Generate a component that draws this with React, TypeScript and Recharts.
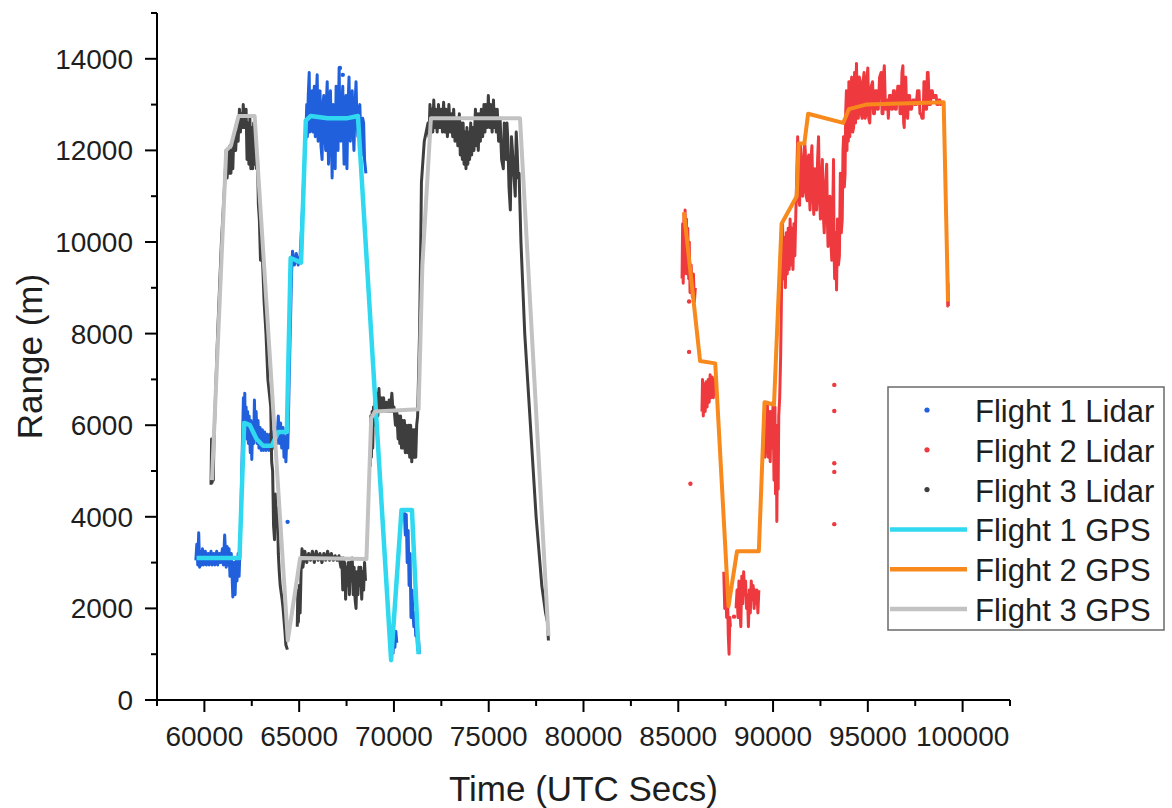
import React from 'react';
import { ComposedChart, Line, Scatter, XAxis, YAxis, Label } from 'recharts';

type P = [number, number];

// ---------- axes ----------
const X_DOMAIN: [number, number] = [57500, 102500];
const Y_DOMAIN: [number, number] = [0, 15000];
const X_TICKS = [57500, 60000, 62500, 65000, 67500, 70000, 72500, 75000, 77500, 80000, 82500, 85000, 87500, 90000, 92500, 95000, 97500, 100000, 102500];
const X_TICK_LABELS = [60000, 65000, 70000, 75000, 80000, 85000, 90000, 95000, 100000];
const Y_TICKS = [0, 1000, 2000, 3000, 4000, 5000, 6000, 7000, 8000, 9000, 10000, 11000, 12000, 13000, 14000, 15000];
const Y_TICK_LABELS = [0, 2000, 4000, 6000, 8000, 10000, 12000, 14000];
const X_TITLE = 'Time (UTC Secs)';
const Y_TITLE = 'Range (m)';

const SERIES_NAMES = ['Flight 1 Lidar', 'Flight 2 Lidar', 'Flight 3 Lidar', 'Flight 1 GPS', 'Flight 2 GPS', 'Flight 3 GPS'];
const COLORS = {
  f1Lidar: '#2160dc',
  f2Lidar: '#ee3a3e',
  f3Lidar: '#3e3e3e',
  f1Gps: '#30d9f0',
  f2Gps: '#f7891d',
  f3Gps: '#c2c2c2',
};

// ---------- GPS tracks ----------
const flight1Gps: P[] = [
  [59590, 3100], [61850, 3100], [62100, 6050], [62400, 6000], [62750, 5700], [63100, 5550], [63550, 5550],
  [63900, 5850], [64350, 5850], [64550, 9650], [65100, 9550], [65350, 12650], [65600, 12750], [66500, 12700],
  [67500, 12700], [68100, 12750], [69850, 870], [70400, 4150], [70950, 4150], [71300, 1000],
];
const flight2Gps: P[] = [
  [85300, 10650], [86150, 7400], [86950, 7350], [87650, 2050], [88100, 3250], [89250, 3250], [89550, 6500],
  [90050, 6450], [90450, 10400], [91250, 11000], [91350, 12150], [91650, 12150], [91850, 12800], [93700, 12600],
  [94000, 12900], [94900, 13000], [99000, 13050], [99230, 8700],
];
const flight3Gps: P[] = [
  [60400, 4800], [61150, 12000], [61400, 12100], [61800, 12750], [62650, 12750], [64400, 1300], [65050, 3100],
  [68550, 3080], [68800, 6150], [69000, 6300], [71300, 6350], [71500, 9500], [71950, 12700], [76650, 12700],
  [78150, 1400],
];

// ---------- Lidar returns (dense traces) ----------
const flight1LidarSegments: P[][] = [
  [
    [59550, 3050], [59600, 3400], [59650, 2950], [59700, 3650], [59750, 2900], [59800, 3250], [59850, 2950],
    [59900, 3300], [59950, 2950], [60050, 3250], [60100, 2950], [60200, 3200], [60250, 2950], [60350, 3250],
    [60400, 2950], [60500, 3200], [60550, 2950], [60650, 3250], [60700, 2950], [60800, 3200], [60850, 3000],
    [60950, 3300], [61000, 2950], [61070, 3600], [61150, 2900], [61200, 3350], [61250, 2950], [61300, 3300],
    [61350, 2700], [61420, 3200], [61500, 2250], [61560, 3000], [61620, 2300], [61680, 3100], [61720, 2600],
    [61780, 3200], [61830, 2700], [61880, 3300], [61950, 4500], [62000, 5500], [62060, 6600],
    [62100, 5900], [62130, 6700], [62160, 5800], [62200, 6400], [62240, 5700], [62280, 6300], [62320, 5600],
    [62360, 6200], [62420, 5400], [62460, 6100], [62500, 5250], [62550, 6000], [62600, 5600], [62640, 6550],
    [62680, 5700], [62730, 6300], [62780, 5600], [62830, 6100], [62880, 5500], [62940, 5950], [63000, 5450],
    [63060, 5900], [63120, 5450], [63180, 5850], [63250, 5450], [63320, 5800], [63400, 5450], [63470, 5800],
    [63540, 5450], [63610, 5850], [63680, 5500], [63750, 5950], [63820, 5600], [63900, 6200], [63960, 5600],
    [64020, 6050], [64080, 5500], [64150, 5950], [64200, 5300], [64250, 5750], [64300, 5200], [64360, 5850],
    [64400, 5500], [64450, 6500], [64500, 7500], [64550, 8400], [64600, 9300], [64650, 9800], [64750, 9500],
    [64850, 9750], [64950, 9500], [65050, 9700], [65150, 10500], [65250, 11500], [65350, 12300],
    [65400, 13000], [65430, 12300], [65480, 13200], [65530, 13700], [65560, 12400], [65600, 13100],
    [65650, 12500], [65690, 13300], [65720, 12400], [65760, 13000], [65800, 13400], [65850, 12300],
    [65900, 13100], [65950, 13650], [66000, 12200], [66050, 13200], [66100, 13300], [66150, 12100],
    [66210, 11800], [66250, 13000], [66300, 13200], [66350, 12400], [66400, 12000], [66440, 13100],
    [66480, 13500], [66520, 12300], [66550, 11700], [66600, 12900], [66650, 13300], [66700, 12200],
    [66740, 11400], [66770, 12600], [66800, 13000], [66850, 12300], [66900, 11600], [66930, 12800],
    [66950, 13400], [67000, 12300], [67050, 12000], [67080, 13100], [67110, 13800], [67150, 12500],
    [67200, 12200], [67250, 13000], [67300, 13400], [67340, 12300], [67370, 11700], [67420, 12800],
    [67470, 13200], [67490, 12200], [67520, 11600], [67570, 12900], [67630, 13600], [67670, 12600],
    [67700, 12200], [67750, 13100], [67800, 13300], [67850, 12400], [67890, 12000], [67950, 13000],
    [68000, 13500], [68050, 12600], [68100, 12300], [68150, 12900], [68200, 13000], [68250, 12300],
    [68310, 11900], [68350, 12700], [68400, 12600], [68450, 11800], [68520, 11500],
  ],
  [
    [69950, 1000], [70000, 1450], [70050, 1150], [70100, 1500], [70150, 1250],
  ],
  [
    [70550, 4100], [70600, 3600], [70650, 4050], [70700, 3000], [70750, 3700], [70800, 2500], [70850, 3200],
    [70900, 1800], [70950, 2400], [71000, 1900], [71050, 1600], [71100, 1900], [71150, 1400], [71200, 1500],
    [71250, 1100], [71300, 1300], [71350, 1000],
  ],
];

const flight2LidarSegments: P[][] = [
  [
    [85200, 9200], [85230, 10400], [85260, 9100], [85300, 10600], [85330, 9300], [85360, 10700], [85400, 9600],
    [85430, 10500], [85470, 9300], [85500, 10300], [85550, 9200], [85580, 10000], [85620, 8900], [85680, 9500],
    [85740, 8800], [85800, 9300], [85850, 8700], [85900, 9000],
  ],
  [
    [86250, 6300], [86280, 7000], [86320, 6200], [86380, 6900], [86420, 6300], [86470, 6950], [86520, 6400],
    [86580, 7000], [86630, 6500], [86680, 7100], [86730, 6600], [86790, 7050], [86850, 6600], [86900, 7000],
    [86950, 6700],
  ],
  [
    [87400, 2800], [87450, 2000], [87500, 2600], [87550, 1800], [87600, 2300], [87640, 1400], [87680, 1000],
    [87720, 1800], [87750, 1600],
  ],
  [
    [88050, 2000], [88100, 2400], [88150, 1800], [88200, 2600], [88250, 2000], [88300, 1600], [88350, 2700],
    [88400, 2100], [88450, 2800], [88500, 2300], [88550, 2600], [88600, 2000], [88650, 2300], [88700, 1600],
    [88750, 2400], [88800, 1900], [88850, 2600], [88900, 2200], [88950, 2500], [89000, 2000], [89050, 2400],
    [89100, 2100], [89150, 2400], [89200, 1900], [89250, 2400],
  ],
  [
    [89550, 6400], [89580, 5300], [89620, 6500], [89660, 5400], [89700, 6500], [89750, 5300], [89800, 6300],
    [89850, 5200], [89900, 6300], [89950, 5500], [90000, 6500], [90050, 4800], [90100, 6400], [90130, 4500],
    [90170, 6000], [90200, 3900], [90230, 5600], [90270, 4600], [90300, 6200], [90350, 6600], [90400, 7500],
    [90450, 9000], [90500, 10400], [90550, 9200], [90600, 10100], [90650, 9000], [90700, 10200],
    [90750, 9300], [90800, 10300], [90850, 9400], [90900, 10500], [90950, 9500], [91000, 10300],
    [91050, 9400], [91100, 10400], [91150, 9700], [91200, 10600],
    [91300, 12300], [91350, 11000], [91400, 10800], [91450, 12100], [91500, 11800], [91560, 11000],
    [91620, 11200], [91660, 12200], [91700, 12000], [91750, 11000], [91800, 10900], [91840, 11800],
    [91880, 11900], [91920, 11000], [91950, 10700], [92000, 11800], [92050, 12100], [92100, 11000],
    [92150, 10600], [92200, 11600], [92250, 11400], [92280, 10800], [92300, 10700], [92350, 11800],
    [92400, 12300], [92450, 11000], [92500, 10500], [92550, 11300], [92600, 11800], [92650, 10600],
    [92700, 10200], [92760, 11200], [92830, 11700], [92870, 10400], [92900, 9900], [92950, 10900],
    [93000, 11000], [93050, 10000], [93100, 9600], [93150, 10700], [93190, 11800], [93220, 9800],
    [93250, 9200], [93300, 10200], [93350, 8950], [93400, 10500], [93450, 9500], [93500, 9700],
    [93550, 11500], [93600, 10200], [93650, 10500], [93690, 12000], [93720, 12300], [93760, 11200],
    [93800, 11500], [93830, 12800], [93870, 13300],
    [93900, 12000], [93930, 13300], [93970, 12200], [94000, 13500], [94050, 12300], [94100, 13400],
    [94150, 13600], [94200, 12400], [94250, 12500], [94300, 13700], [94350, 12600], [94400, 13900],
    [94450, 12700], [94500, 12700], [94550, 13600], [94600, 13500], [94650, 12800], [94700, 12700],
    [94750, 13500], [94800, 13700], [94860, 12700], [94920, 12800], [94960, 13600], [95000, 13800],
    [95050, 12700], [95100, 12600], [95180, 13400], [95250, 13500], [95300, 12800], [95350, 12800],
    [95400, 13300], [95450, 13300], [95500, 12900], [95550, 12900], [95620, 13600], [95700, 13700],
    [95750, 12800], [95800, 12800], [95840, 13700], [95870, 13850], [95930, 12900], [96000, 12900],
    [96040, 13100], [96080, 12700], [96140, 13200], [96200, 13200], [96250, 12900], [96300, 12900],
    [96350, 13300], [96400, 13300], [96450, 12900], [96500, 12900], [96580, 13400], [96650, 13400],
    [96700, 12800], [96750, 12800], [96800, 13700], [96850, 13850], [96890, 12600], [96920, 12500],
    [96960, 13500], [97000, 13600], [97050, 12800], [97100, 12700], [97150, 13200], [97200, 13200],
    [97250, 12900], [97300, 12900], [97380, 13100], [97450, 13100], [97500, 13000], [97550, 13000],
    [97620, 13300], [97700, 13300], [97750, 12800], [97800, 12800], [97860, 12700], [97920, 12700],
    [97960, 13500], [98000, 13500], [98050, 12900], [98100, 12900], [98140, 13700], [98180, 13700],
    [98240, 13000], [98300, 13000], [98350, 13300], [98400, 13300], [98450, 13150], [98490, 13150],
    [98550, 13200], [98600, 13200], [98650, 13000], [98700, 13000], [98750, 13100], [98800, 13100],
    [98850, 13000], [98900, 13000],
  ],
  [
    [99200, 9000], [99215, 8600], [99230, 9100], [99250, 8600],
  ],
];

const flight3LidarSegments: P[][] = [
  [
    [60350, 4700], [60380, 5700], [60410, 4750], [60440, 5600], [60470, 4800], [60500, 5600], [60550, 6200],
    [60700, 8000], [60900, 10000], [61100, 11500], [61150, 12000], [61200, 11400], [61250, 12000],
    [61300, 11500], [61350, 12100], [61400, 11500], [61450, 12000], [61500, 11600], [61550, 12300],
    [61650, 12000], [61700, 12400], [61780, 12200], [61850, 12900], [61900, 12400], [61950, 12800],
    [62000, 12500], [62050, 13000], [62100, 12500], [62150, 12800], [62200, 12900], [62250, 11800],
    [62300, 12600], [62350, 11700], [62400, 12700], [62450, 11600], [62500, 12500], [62550, 11600],
    [62600, 12600], [62650, 11700], [62700, 12200], [62750, 11600], [62800, 11900], [62850, 10800],
    [62900, 10500], [62960, 9600], [63000, 10200], [63050, 9800], [63150, 8700], [63250, 8000],
    [63350, 7000], [63450, 6600], [63500, 6400], [63550, 5200], [63600, 5000], [63650, 3800], [63700, 3500],
    [63750, 4500], [63800, 3800], [63850, 4200], [63900, 3200], [63950, 2800], [64000, 2500], [64100, 2200],
    [64150, 2000], [64250, 1500], [64300, 1200], [64380, 1100],
  ],
  [
    [64900, 1600], [64930, 2400], [64960, 1700], [65000, 2500], [65050, 1900], [65100, 2800], [65150, 3300],
    [65200, 2900], [65300, 3250], [65400, 3000], [65500, 3200], [65600, 3050], [65700, 3250], [65800, 3000],
    [65900, 3250], [66000, 3050], [66100, 3200], [66200, 3000], [66300, 3200], [66400, 3050], [66500, 3250],
    [66600, 3050], [66700, 3200], [66800, 3050], [66900, 3150], [67000, 3050], [67100, 3150], [67200, 2900],
    [67250, 3100], [67300, 2400], [67340, 3100], [67370, 2600], [67410, 3000], [67450, 2200], [67500, 2900],
    [67550, 2500], [67600, 3000], [67650, 2300], [67700, 3000], [67750, 2600], [67800, 3100], [67850, 2300],
    [67900, 2900], [67950, 2200], [68000, 2000], [68050, 2800], [68100, 2300], [68150, 2900], [68200, 2500],
    [68250, 2900], [68300, 2200], [68350, 2800], [68400, 2400], [68450, 3000], [68500, 2600],
  ],
  [
    [68750, 5100], [68780, 6200], [68810, 5300], [68850, 6300], [68880, 5500], [68920, 6400], [68960, 6000],
    [69000, 6500], [69050, 6100], [69100, 6700], [69150, 6200], [69210, 6800], [69260, 6300], [69320, 6600],
    [69380, 6300], [69450, 6600], [69520, 6300], [69600, 6500], [69680, 6300], [69750, 6550], [69820, 6300],
    [69890, 6700], [69950, 6300], [70000, 6400], [70080, 6000], [70150, 6300], [70220, 5700], [70260, 6200],
    [70310, 5600], [70350, 6200], [70400, 5500], [70450, 6100], [70500, 5500], [70550, 6100], [70600, 5400],
    [70650, 6000], [70720, 5400], [70780, 6000], [70830, 5300], [70880, 6000], [70940, 5200], [71000, 5900],
    [71050, 5300], [71100, 5900], [71150, 5300], [71200, 6000], [71250, 6200], [71350, 8000], [71400, 9500],
    [71450, 11300], [71600, 12200],
    [71800, 12600], [71850, 12300], [71900, 13000], [71950, 12400], [72000, 12900], [72050, 12400],
    [72100, 13100], [72150, 12500], [72200, 12900], [72280, 12400], [72350, 13000], [72420, 12500],
    [72500, 12900], [72560, 12400], [72620, 13050], [72690, 12400], [72750, 12900], [72820, 12300],
    [72900, 13000], [72970, 12400], [73040, 12800], [73100, 12300], [73150, 12900], [73220, 12200],
    [73300, 12700], [73370, 12100], [73450, 12800], [73500, 11900], [73560, 12600], [73610, 11800],
    [73650, 12600], [73700, 11700], [73750, 12400], [73800, 11600], [73850, 12500], [73900, 11700],
    [73930, 12400], [73990, 11800], [74050, 12600], [74100, 11900], [74150, 12500], [74220, 12000],
    [74300, 12900], [74350, 12100], [74400, 12800], [74450, 12000], [74500, 12800], [74560, 12200],
    [74610, 12900], [74680, 12300], [74750, 13000], [74800, 12400], [74850, 13000], [74920, 12500],
    [74980, 13200], [75040, 12500], [75100, 13000], [75180, 12400], [75250, 13100], [75300, 12500],
    [75350, 12900], [75400, 12400], [75450, 12900], [75520, 12200], [75600, 12700], [75680, 11800],
    [75770, 11600], [75820, 12600], [75850, 12200], [75900, 12500], [75920, 11800], [75960, 12600],
    [76000, 12300], [76070, 11200], [76140, 10700], [76200, 12300], [76250, 12000], [76320, 11500],
    [76400, 11000], [76450, 12400], [76500, 12000], [76550, 11400], [76600, 11500],
    [76700, 10000], [76900, 8000], [77200, 6000], [77500, 4000], [77800, 2500], [78000, 1900], [78100, 1700],
    [78150, 1300],
  ],
];

// isolated lidar returns
const flight1LidarOutliers: P[] = [[64390, 3890], [67150, 13800], [67300, 13650]];
const flight2LidarOutliers: P[] = [
  [85570, 8700], [85570, 7600], [85640, 4720], [87940, 1820],
  [93230, 6880], [93230, 6310], [93230, 5170], [93230, 4980], [93230, 3840],
];

// ---------- helpers ----------
const toData = (pts: P[]) => pts.map(([x, y]) => ({ x, y }));
const segmentsToData = (segs: P[][]) =>
  segs.flatMap((s) => [...toData(s), { x: s[s.length - 1][0], y: null as number | null }]);

const FONT = '"Liberation Sans", Arial, Helvetica, sans-serif';

const XTick = (props: any) => {
  const { x, y, payload } = props;
  const v = payload.value as number;
  const major = X_TICK_LABELS.includes(v);
  return (
    <g>
      <line x1={x} x2={x} y1={y} y2={y + (major ? 12 : 6)} stroke="#000" strokeWidth={2} />
      {major && (
        <text x={x} y={y + 46} textAnchor="middle" fontSize={28} fontFamily={FONT} fill="#1e1e1e">
          {v}
        </text>
      )}
    </g>
  );
};

const YTick = (props: any) => {
  const { x, y, payload } = props;
  const v = payload.value as number;
  const major = Y_TICK_LABELS.includes(v);
  return (
    <g>
      <line x1={x} x2={x - (major ? 12 : 6)} y1={y} y2={y} stroke="#000" strokeWidth={2} />
      {major && (
        <text x={x - 24} y={y + 10} textAnchor="end" fontSize={28} fontFamily={FONT} fill="#1e1e1e">
          {v}
        </text>
      )}
    </g>
  );
};

const dotShape = (color: string) => (p: any) => <circle cx={p.cx} cy={p.cy} r={2.2} fill={color} />;

const LEGEND_ITEMS = [
  { name: SERIES_NAMES[0], color: COLORS.f1Lidar, kind: 'dot' },
  { name: SERIES_NAMES[1], color: COLORS.f2Lidar, kind: 'dot' },
  { name: SERIES_NAMES[2], color: COLORS.f3Lidar, kind: 'dot' },
  { name: SERIES_NAMES[3], color: COLORS.f1Gps, kind: 'line' },
  { name: SERIES_NAMES[4], color: COLORS.f2Gps, kind: 'line' },
  { name: SERIES_NAMES[5], color: COLORS.f3Gps, kind: 'line' },
];

const Legendbox = () => (
  <svg width={278} height={245} style={{ position: 'absolute', left: 887, top: 386 }}>
    <rect x={1} y={1} width={276} height={243} fill="#fff" stroke="#6a6a6a" strokeWidth={1.5} />
    {LEGEND_ITEMS.map((it, i) => {
      const cy = 24 + i * 39.8;
      return (
        <g key={it.name}>
          {it.kind === 'dot' ? (
            <circle cx={40} cy={cy} r={2.6} fill={it.color} />
          ) : (
            <line x1={3} x2={80} y1={cy} y2={cy} stroke={it.color} strokeWidth={4.5} />
          )}
          <text x={88} y={cy + 12} fontSize={31} fontFamily={FONT} fill="#1e1e1e">
            {it.name}
          </text>
        </g>
      );
    })}
  </svg>
);

const LIDAR_W = 3;

export default function App() {
  return (
    <div style={{ position: 'absolute', left: 0, top: 0, width: 1172, height: 808, background: '#fff' }}>
      <ComposedChart width={1172} height={808} margin={{ top: 13, right: 162, bottom: 0, left: 0 }}>
        <XAxis
          type="number"
          dataKey="x"
          domain={X_DOMAIN}
          ticks={X_TICKS}
          interval={0}
          allowDataOverflow
          height={108}
          tickSize={0}
          tickMargin={0}
          tickLine={false}
          axisLine={{ stroke: '#000', strokeWidth: 2 }}
          tick={<XTick />}
        >
          <Label
            content={(p: any) => {
              const vb = p.viewBox;
              return (
                <text x={vb.x + vb.width / 2} y={vb.y + 101} textAnchor="middle" fontSize={35} fontFamily={FONT} fill="#1e1e1e">
                  {X_TITLE}
                </text>
              );
            }}
          />
        </XAxis>
        <YAxis
          type="number"
          dataKey="y"
          domain={Y_DOMAIN}
          ticks={Y_TICKS}
          interval={0}
          allowDataOverflow
          width={157}
          tickSize={0}
          tickMargin={0}
          tickLine={false}
          axisLine={{ stroke: '#000', strokeWidth: 2 }}
          tick={<YTick />}
        >
          <Label
            content={(p: any) => {
              const vb = p.viewBox;
              const cx = 30;
              const cy = vb.y + vb.height / 2;
              return (
                <text x={cx} y={cy} dy={12} textAnchor="middle" fontSize={35} fontFamily={FONT} fill="#1e1e1e" transform={`rotate(-90, ${cx}, ${cy})`}>
                  {Y_TITLE}
                </text>
              );
            }}
          />
        </YAxis>

        <Line data={segmentsToData(flight1LidarSegments)} dataKey="y" name={SERIES_NAMES[0]} stroke={COLORS.f1Lidar} strokeWidth={LIDAR_W} strokeLinejoin="round" dot={false} connectNulls={false} isAnimationActive={false} />
        <Line data={segmentsToData(flight2LidarSegments)} dataKey="y" name={SERIES_NAMES[1]} stroke={COLORS.f2Lidar} strokeWidth={LIDAR_W} strokeLinejoin="round" dot={false} connectNulls={false} isAnimationActive={false} />
        <Line data={segmentsToData(flight3LidarSegments)} dataKey="y" name={SERIES_NAMES[2]} stroke={COLORS.f3Lidar} strokeWidth={LIDAR_W} strokeLinejoin="round" dot={false} connectNulls={false} isAnimationActive={false} />
        <Scatter data={toData(flight1LidarOutliers)} dataKey="y" fill={COLORS.f1Lidar} shape={dotShape(COLORS.f1Lidar)} isAnimationActive={false} />
        <Scatter data={toData(flight2LidarOutliers)} dataKey="y" fill={COLORS.f2Lidar} shape={dotShape(COLORS.f2Lidar)} isAnimationActive={false} />

        <Line data={toData(flight1Gps)} dataKey="y" name={SERIES_NAMES[3]} stroke={COLORS.f1Gps} strokeWidth={4.5} strokeLinejoin="round" dot={false} isAnimationActive={false} />
        <Line data={toData(flight2Gps)} dataKey="y" name={SERIES_NAMES[4]} stroke={COLORS.f2Gps} strokeWidth={4} strokeLinejoin="round" dot={false} isAnimationActive={false} />
        <Line data={toData(flight3Gps)} dataKey="y" name={SERIES_NAMES[5]} stroke={COLORS.f3Gps} strokeWidth={4} strokeLinejoin="round" dot={false} isAnimationActive={false} />
      </ComposedChart>
      <Legendbox />
    </div>
  );
}
